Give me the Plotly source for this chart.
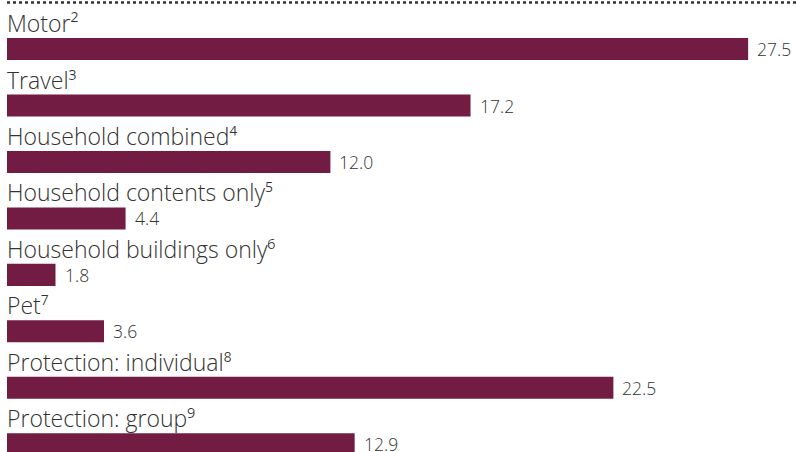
import plotly.graph_objects as go

categories = ["Motor²", "Travel³", "Household combined⁴", "Household contents only⁵",
              "Household buildings only⁶", "Pet⁷", "Protection: individual⁸", "Protection: group⁹"]
values = [27.5, 17.2, 12.0, 4.4, 1.8, 3.6, 22.5, 12.9]
value_labels = ["27.5", "17.2", "12.0", "4.4", "1.8", "3.6", "22.5", "12.9"]

BAR = "#721C44"
TXT = "#333333"
FONT = "Open Sans"

fig = go.Figure(go.Bar(
    x=values, y=categories, orientation="h",
    marker=dict(color=BAR, line=dict(width=0)),
    width=0.39, hoverinfo="skip",
))

annotations = []
for c, v, lab in zip(categories, values, value_labels):
    annotations.append(dict(x=0, y=c, xref="x", yref="y", text=c, showarrow=False,
                            xanchor="left", yanchor="middle", yshift=26, xshift=-2,
                            font=dict(family=FONT, size=23, color=TXT, weight=300)))
    annotations.append(dict(x=v, y=c, xref="x", yref="y", text=lab, showarrow=False,
                            xanchor="left", yanchor="middle", xshift=7, yshift=0,
                            font=dict(family=FONT, size=17.5, color=TXT, weight=300)))

fig.update_layout(
    width=796, height=452,
    margin=dict(l=7, r=0, t=0, b=0, autoexpand=False),
    paper_bgcolor="white", plot_bgcolor="white",
    showlegend=False,
    xaxis=dict(range=[0, 789 / 26.95], visible=False, fixedrange=True),
    yaxis=dict(type="category", categoryorder="array", categoryarray=categories,
               range=[7.138, -0.870], visible=False, fixedrange=True),
    annotations=annotations,
    shapes=[dict(type="line", xref="paper", yref="paper", x0=0, x1=1.01,
                 y0=1 - 2.5 / 452, y1=1 - 2.5 / 452,
                 line=dict(color="#333333", width=2.5, dash="dot"))],
)

fig.write_html("out.html", config={"displayModeBar": False},
               post_script="document.body.style.margin='0';document.body.style.overflow='hidden';")
